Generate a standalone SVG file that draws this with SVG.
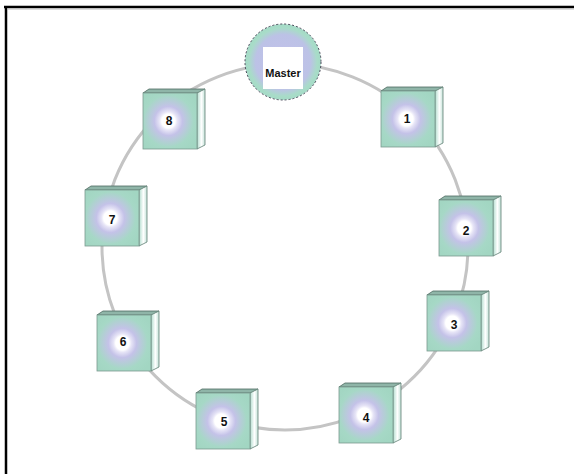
<svg xmlns="http://www.w3.org/2000/svg" width="574" height="474" viewBox="0 0 574 474">
<style>
.frame{stroke:#000;stroke-width:2.5;fill:none}
.ring{fill:none;stroke:#c4c4c4;stroke-width:3}
.num{font-family:"Liberation Sans",Arial,sans-serif;font-weight:bold;font-size:12px;fill:#111;text-anchor:middle}
.mtxt{font-family:"Liberation Sans",Arial,sans-serif;font-weight:bold;font-size:11px;fill:#111;text-anchor:middle}
</style>
<defs>
<radialGradient id="fg" cx="0.47" cy="0.5" r="0.62">
<stop offset="0" stop-color="#ffffff"/>
<stop offset="0.2" stop-color="#ffffff"/>
<stop offset="0.27" stop-color="#e6e4f6"/>
<stop offset="0.42" stop-color="#c4c2e8"/>
<stop offset="0.75" stop-color="#a6d8c6"/>
<stop offset="1" stop-color="#a2d6c2"/>
</radialGradient>
<linearGradient id="sg" x1="0" y1="0" x2="1" y2="0">
<stop offset="0" stop-color="#b0dccd"/>
<stop offset="0.55" stop-color="#ffffff"/>
<stop offset="1" stop-color="#c4e2d8"/>
</linearGradient>
<radialGradient id="mg" cx="0.5" cy="0.5" r="0.5">
<stop offset="0" stop-color="#c2c0ea"/>
<stop offset="0.72" stop-color="#bcc2e6"/>
<stop offset="0.9" stop-color="#a8dcc8"/>
<stop offset="1" stop-color="#a4dac6"/>
</radialGradient>
<g id="box">
<polygon points="0,0 6,-4 62,-4 56,0" fill="#8fb5a8" stroke="#4d6a60" stroke-width="0.8"/>
<polygon points="54,0 62,-4 62,52 54,56" fill="url(#sg)" stroke="#5f7f74" stroke-width="0.8"/>
<rect x="0" y="0" width="54" height="56" fill="url(#fg)" stroke="#7c9a90" stroke-width="0.8"/>
</g>
</defs>
<rect width="574" height="474" fill="#fff"/>
<line class="frame" x1="4" y1="7" x2="574" y2="7"/>
<line class="frame" x1="6" y1="6" x2="6" y2="474"/>
<line x1="7" y1="9" x2="574" y2="9" stroke="#bbb" stroke-width="1"/>
<g id="connectors">
<circle class="ring" cx="285" cy="247" r="183"/>
</g>
<g id="master">
<circle cx="283" cy="62" r="38" fill="url(#mg)" stroke="#445" stroke-width="1" stroke-dasharray="2 2"/>
<rect x="263" y="47" width="40" height="42" fill="#fff"/>
<text class="mtxt" x="283" y="77">Master</text>
</g>
<g id="n1"><use href="#box" x="381" y="91"/><text class="num" x="407" y="123">1</text></g>
<g id="n2"><use href="#box" x="439" y="200"/><text class="num" x="466" y="235">2</text></g>
<g id="n3"><use href="#box" x="427" y="295"/><text class="num" x="454" y="329">3</text></g>
<g id="n4"><use href="#box" x="339" y="387"/><text class="num" x="366" y="422">4</text></g>
<g id="n5"><use href="#box" x="196" y="393"/><text class="num" x="224" y="426">5</text></g>
<g id="n6"><use href="#box" x="97" y="315"/><text class="num" x="123" y="346">6</text></g>
<g id="n7"><use href="#box" x="85" y="190"/><text class="num" x="112" y="224">7</text></g>
<g id="n8"><use href="#box" x="143" y="93"/><text class="num" x="169" y="125">8</text></g>
</svg>
